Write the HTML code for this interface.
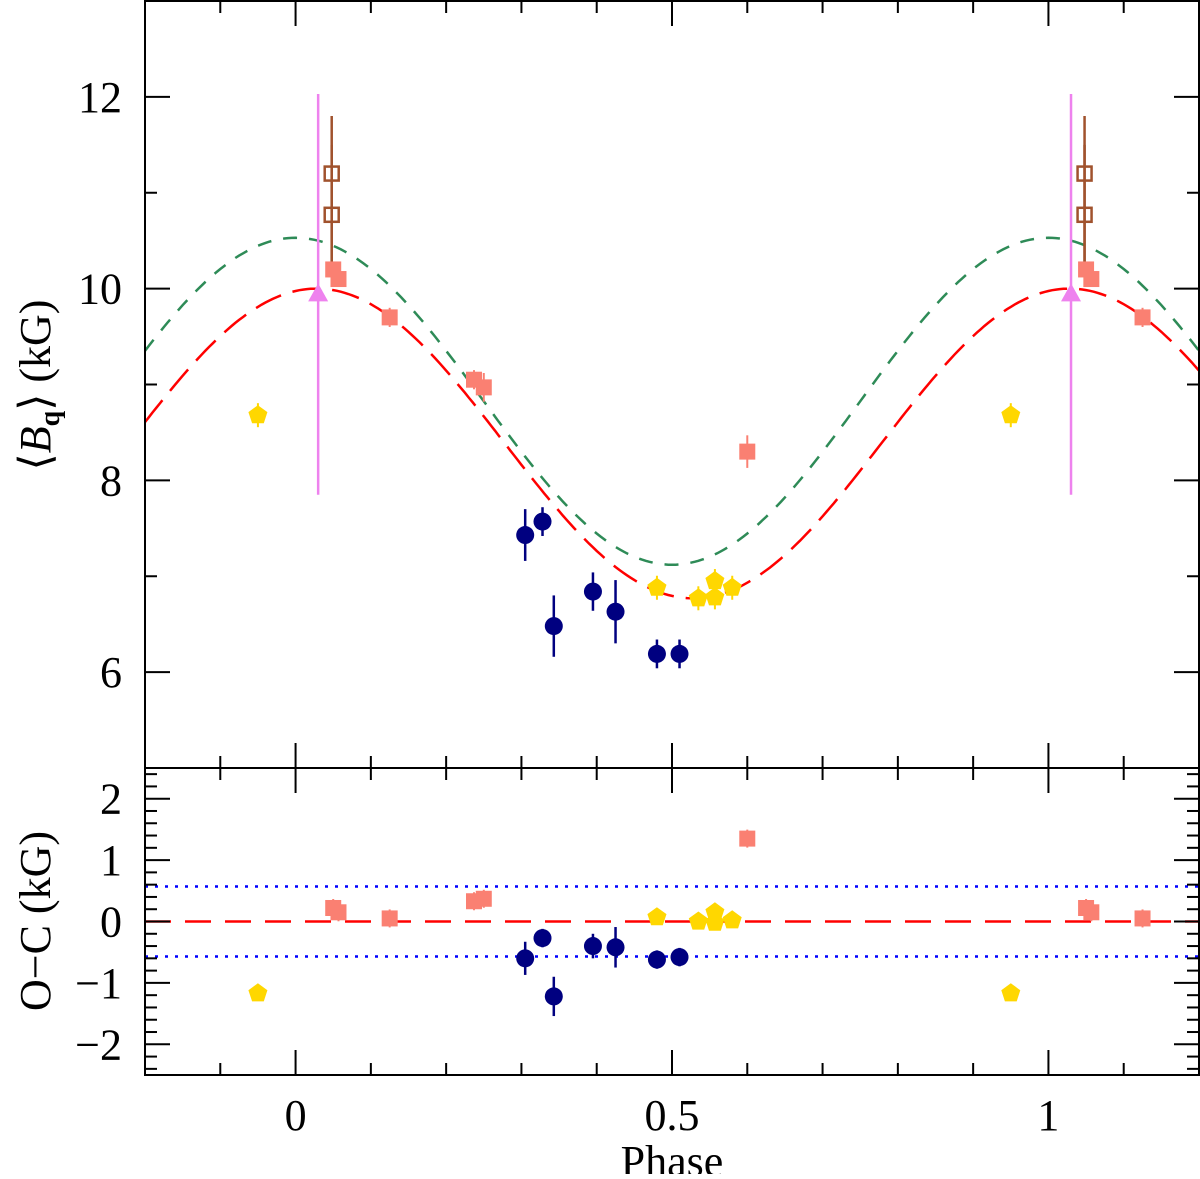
<!DOCTYPE html>
<html><head><meta charset="utf-8"><style>
body{margin:0;background:#fff;width:1200px;height:1174px;overflow:hidden}
svg text{font-family:"Liberation Serif",serif;fill:#000}
</style></head><body>
<svg id="c" width="1200" height="1174" xmlns="http://www.w3.org/2000/svg"></svg>
<script>
const squaresPhase=[0.05,0.057,0.125,0.237,0.25,0.6];
const squaresB=[10.2,10.1,9.7,9.05,8.97,8.3];
const squaresErr=[0.08,0.08,0.1,0.1,0.15,0.17];
const squaresOC=[0.22,0.15,0.05,0.33,0.37,1.35];
const openPhase=[0.048,0.048];
const openB=[11.2,10.77];
const openErrHi=[11.8,11.5];
const openErrLo=[10.2,10.2];
const triPhase=[0.03];
const triB=[9.95];
const triLo=[7.85];
const triHi=[12.03];
const pentPhase=[-0.05,0.48,0.535,0.557,0.557,0.58];
const pentB=[8.68,6.88,6.77,6.95,6.78,6.88];
const pentOC=[-1.17,0.07,0.0,0.15,-0.02,0.02];
const circPhase=[0.305,0.328,0.343,0.395,0.425,0.48,0.51];
const circB=[7.43,7.57,6.48,6.84,6.63,6.19,6.19];
const circErr=[0.27,0.15,0.32,0.2,0.33,0.15,0.15];
const circOC=[-0.6,-0.27,-1.22,-0.4,-0.42,-0.62,-0.58];
const redFit=[8.385,1.615,0.028];
const greenFit=[8.825,1.705,0.0];
const ocBand=[0.57];
const xTicks=[0,0.5,1];
const yTopTicks=[6,8,10,12];
const yBotTicks=[-2,-1,0,1,2];

const NS="http://www.w3.org/2000/svg";
const svg=document.getElementById('c');
const L=145,R=1199,T=1,M=768,B=1075;
const X=p=>L+(p+0.2)/1.4*(R-L);
const YT=v=>T+(13-v)/8*(M-T);
const YB=v=>M+(2.5-v)/5*(B-M);
function el(tag,a,name,parent){const e=document.createElementNS(NS,tag);for(const k in a)e.setAttribute(k,a[k]);


(parent||svg).appendChild(e);return e;}
function line(x1,y1,x2,y2,st,w,name,extra){return el('line',Object.assign({x1,y1,x2,y2,stroke:st,'stroke-width':w},extra||{}),name);}

function curve(fit,col,dash,name){let d='';for(let p=-0.2;p<=1.2001;p+=0.005){const v=fit[0]+fit[1]*Math.cos(2*Math.PI*(p-fit[2]));d+=(d?'L':'M')+X(p).toFixed(1)+','+YT(v).toFixed(1);}
el('path',{d,fill:'none',stroke:col,'stroke-width':2.5,'stroke-dasharray':dash},name);}
curve(greenFit,'#2e8b57','14,12','green-model-curve');
curve(redFit,'#ff0000','28,12','red-model-curve');

line(L,YB(0),R,YB(0),'#ff0000',2.5,'oc-zero-line',{'stroke-dasharray':'26,14'});
line(L,YB(ocBand[0]),R,YB(ocBand[0]),'#0000ff',2.5,'oc-upper-sigma',{'stroke-dasharray':'3,7'});
line(L,YB(-ocBand[0]),R,YB(-ocBand[0]),'#0000ff',2.5,'oc-lower-sigma',{'stroke-dasharray':'3,7'});

const shifts=[0,1];
function vis(p){return p>=-0.2&&p<=1.2;}
triPhase.forEach((p,i)=>shifts.forEach(s=>{const x=X(p+s);if(!vis(p+s))return;
line(x,YT(triLo[i]),x,YT(triHi[i]),'#ee82ee',2.5,'triangle-errorbar');
const y=YT(triB[i]);el('polygon',{points:`${x},${y-10} ${x-10},${y+8} ${x+10},${y+8}`,fill:'#ee82ee'},'triangle-point');}));
openPhase.forEach((p,i)=>shifts.forEach(s=>{const x=X(p+s);
line(x,YT(openErrLo[i]),x,YT(openErrHi[i]),'#a0522d',2.5,'open-square-errorbar');
const y=YT(openB[i]);el('rect',{x:x-7,y:y-7,width:14,height:14,fill:'none',stroke:'#a0522d','stroke-width':2.5},'open-square-point');}));
squaresPhase.forEach((p,i)=>shifts.forEach(s=>{if(!vis(p+s))return;const x=X(p+s);
line(x,YT(squaresB[i]-squaresErr[i]),x,YT(squaresB[i]+squaresErr[i]),'#fa8072',2,'square-errorbar');
const y=YT(squaresB[i]);el('rect',{x:x-8,y:y-8,width:16,height:16,fill:'#fa8072'},'square-point');
const yo=YB(squaresOC[i]);line(x,yo-9,x,yo+9,'#fa8072',2,'square-oc-errorbar');el('rect',{x:x-8,y:yo-8,width:16,height:16,fill:'#fa8072'},'square-oc-point');}));
function pent(x,y,name){let pts=[];for(let k=0;k<5;k++){const a=-Math.PI/2+k*2*Math.PI/5;pts.push((x+10*Math.cos(a)).toFixed(1)+','+(y+10*Math.sin(a)).toFixed(1));}el('polygon',{points:pts.join(' '),fill:'#ffd700'},name);}
pentPhase.forEach((p,i)=>shifts.forEach(s=>{if(!vis(p+s))return;const x=X(p+s);
if(s===1&&p>0.2)return;
line(x,YT(pentB[i])-12,x,YT(pentB[i])+12,'#ffd700',2,'pentagon-errorbar');
pent(x,YT(pentB[i]),'pentagon-point');pent(x,YB(pentOC[i]),'pentagon-oc-point');}));
circPhase.forEach((p,i)=>{const x=X(p);
line(x,YT(circB[i]-circErr[i]),x,YT(circB[i]+circErr[i]),'#000080',2.5,'circle-errorbar');
el('circle',{cx:x,cy:YT(circB[i]),r:9,fill:'#000080'},'circle-point');
const yo=YB(circOC[i]);const e=circErr[i]*(B-M)/5;line(x,yo-e,x,yo+e,'#000080',2.5,'circle-oc-errorbar');
el('circle',{cx:x,cy:yo,r:9,fill:'#000080'},'circle-oc-point');});

el('rect',{x:L,y:T,width:R-L,height:M-T,fill:'none',stroke:'#000','stroke-width':2},'top-panel-frame');
el('rect',{x:L,y:M,width:R-L,height:B-M,fill:'none',stroke:'#000','stroke-width':2},'bottom-panel-frame');
for(let k=-2;k<=12;k++){const p=k/10,x=X(p),maj=(k%5===0),len=maj?25:12;
[[T,1],[M,-1],[M,1],[B,-1]].forEach(([y,d])=>line(x,y,x,y+d*len,'#000',2,'x-tick'));}
xTicks.forEach(p=>{const t=el('text',{x:X(p),y:1130,'font-size':44,'text-anchor':'middle'},'x-tick-label');t.textContent=String(p);});
for(let v=5;v<=13;v++){const y=YT(v),len=(v%2===0)?25:12;line(L,y,L+len,y,'#000',2,'y-top-tick');line(R,y,R-len,y,'#000',2,'y-top-tick');}
yTopTicks.forEach(v=>{const t=el('text',{x:122,y:YT(v)+15,'font-size':44,'text-anchor':'end'},'y-top-tick-label');t.textContent=String(v);});
for(let k=-12;k<=12;k++){const v=k/5,y=YB(v),len=(k%5===0)?25:12;line(L,y,L+len,y,'#000',2,'y-bottom-tick');line(R,y,R-len,y,'#000',2,'y-bottom-tick');}
yBotTicks.forEach(v=>{const t=el('text',{x:122,y:YB(v)+15,'font-size':44,'text-anchor':'end'},'y-bottom-tick-label');t.textContent=v<0?'\u2212'+(-v):String(v);});
let t=el('text',{x:672,y:1176,'font-size':44,'text-anchor':'middle'},'x-axis-title');t.textContent='Phase';
t=el('text',{transform:'translate(50,385) rotate(-90)','font-size':44,'text-anchor':'middle'},'y-top-axis-title');
t.innerHTML='\u27E8<tspan font-style="italic">B</tspan><tspan font-size="28" dy="9" font-weight="bold">q</tspan><tspan dy="-9">\u27E9 (kG)</tspan>';
t=el('text',{transform:'translate(50,921) rotate(-90)','font-size':44,'text-anchor':'middle'},'y-bottom-axis-title');t.textContent='O\u2212C (kG)';
</script>
</body></html>
